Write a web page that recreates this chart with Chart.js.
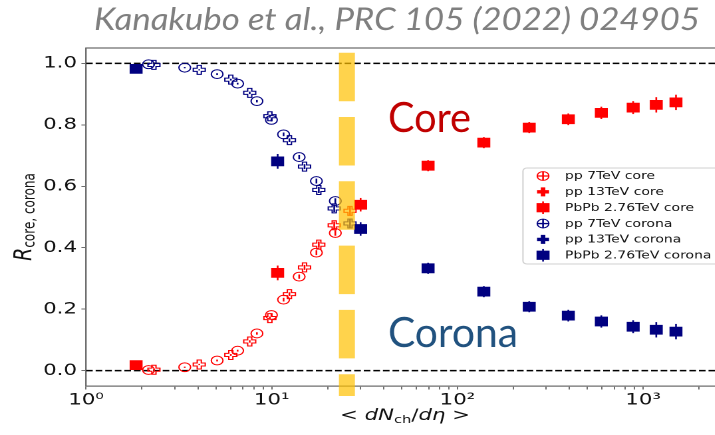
<!DOCTYPE html>
<html>
<head>
<meta charset="utf-8">
<script src="https://cdn.jsdelivr.net/npm/chart.js@4.4.1/dist/chart.umd.min.js"></script>
<style>
  html, body { margin: 0; padding: 0; background: #fff; width: 715px; height: 435px; overflow: hidden; }
  #wrap { position: absolute; left: 0; top: 0; width: 546px; height: 435px;
          transform: scaleX(1.33); transform-origin: 0 0; }
</style>
</head>
<body>
<div id="wrap"><canvas id="c" width="546" height="435"></canvas></div>
<script>
// Horizontal stretch of the whole figure (the canvas is widened by CSS)
const S = 1.33;
const RED = '#ff0000';
const NAVY = '#000080';

// Axis ticks
const xMajorTicks = [1, 10, 100, 1000];
const xTickLabels = ['10⁰', '10¹', '10²', '10³'];
const xMinorSteps = [2, 3, 4, 5, 6, 7, 8, 9];
const yTicks = [0, 0.2, 0.4, 0.6, 0.8, 1.0];
const yTickLabels = ['0.0', '0.2', '0.4', '0.6', '0.8', '1.0'];

// pp 7 TeV  (<dNch/deta>, core / corona fractions, errors)
const pp7Mult   = [2.17, 3.40, 5.08, 6.55, 8.32, 9.96, 11.58, 14.05, 17.4, 22.0];
const pp7Core   = [0.002, 0.011, 0.033, 0.065, 0.121, 0.181, 0.231, 0.306, 0.384, 0.448];
const pp7Corona = [0.997, 0.986, 0.965, 0.934, 0.877, 0.816, 0.769, 0.695, 0.617, 0.552];
const pp7Err    = [0.002, 0.002, 0.003, 0.003, 0.004, 0.005, 0.006, 0.007, 0.008, 0.009];

// pp 13 TeV
const pp13Mult   = [2.32, 4.07, 6.02, 7.61, 9.77, 12.45, 15.02, 17.92, 21.7, 26.4];
const pp13Core   = [0.003, 0.020, 0.051, 0.095, 0.171, 0.249, 0.336, 0.410, 0.473, 0.520];
const pp13Corona = [0.995, 0.979, 0.947, 0.904, 0.828, 0.750, 0.664, 0.588, 0.528, 0.479];
const pp13Err    = [0.002, 0.002, 0.003, 0.004, 0.005, 0.006, 0.008, 0.010, 0.012, 0.014];

// PbPb 2.76 TeV
const pbpbMult   = [1.86, 10.76, 30.1, 69.5, 138.7, 243.6, 395.6, 595.6, 884, 1177, 1503];
const pbpbCore   = [0.018, 0.318, 0.540, 0.667, 0.742, 0.791, 0.818, 0.839, 0.856, 0.865, 0.873];
const pbpbCorona = [0.982, 0.681, 0.461, 0.333, 0.257, 0.208, 0.179, 0.160, 0.143, 0.133, 0.127];
const pbpbErr    = [0.012, 0.024, 0.022, 0.018, 0.018, 0.018, 0.019, 0.020, 0.021, 0.025, 0.025];

// Reference levels and the dashed vertical marker
const refLevels = [0, 1];
const xRange = [1, 2500];
const yRange = [-0.05, 1.05];
const bandX = 25.4;

const pts = (xs, ys) => xs.map((x, i) => ({ x, y: ys[i] }));

function circleSet(label, ys, color) {
  return { label, data: pts(pp7Mult, ys), err: pp7Err, marker: 'circle',
    pointStyle: 'circle', pointRadius: 4.4, borderWidth: 1,
    borderColor: color, backgroundColor: 'rgba(0,0,0,0)', showLine: false };
}
function plusSet(label, ys, color) {
  return { label, data: pts(pp13Mult, ys), err: pp13Err, marker: 'plus',
    pointRadius: 0, borderColor: color, backgroundColor: color, showLine: false };
}
function squareSet(label, ys, color) {
  return { label, data: pts(pbpbMult, ys), err: pbpbErr, marker: 'square',
    pointStyle: 'rect', pointRadius: 6.9, borderWidth: 0,
    borderColor: color, backgroundColor: color, showLine: false };
}
function refLine(level) {
  return { label: '', data: [{ x: xRange[0], y: level }, { x: xRange[1], y: level }],
    showLine: true, pointRadius: 0, borderColor: '#000', borderWidth: 1.6,
    borderDash: [5, 2.2], ref: true };
}

const datasets = [
  circleSet('pp 7TeV core', pp7Core, RED),
  plusSet('pp 13TeV core', pp13Core, RED),
  squareSet('PbPb 2.76TeV core', pbpbCore, RED),
  circleSet('pp 7TeV corona', pp7Corona, NAVY),
  plusSet('pp 13TeV corona', pp13Corona, NAVY),
  squareSet('PbPb 2.76TeV corona', pbpbCorona, NAVY),
  ...refLevels.map(refLine)
];

function plusPath(ctx, x, y, a, b) {
  ctx.beginPath();
  ctx.moveTo(x - b, y - a); ctx.lineTo(x + b, y - a); ctx.lineTo(x + b, y - b);
  ctx.lineTo(x + a, y - b); ctx.lineTo(x + a, y + b); ctx.lineTo(x + b, y + b);
  ctx.lineTo(x + b, y + a); ctx.lineTo(x - b, y + a); ctx.lineTo(x - b, y + b);
  ctx.lineTo(x - a, y + b); ctx.lineTo(x - a, y - b); ctx.lineTo(x - b, y - b);
  ctx.closePath();
}

function fitText(ctx, text, x, baseline, width, font, color) {
  ctx.save();
  ctx.font = font;
  const w = ctx.measureText(text).width;
  ctx.translate(x, baseline);
  ctx.scale(width / w, 1);
  ctx.fillStyle = color;
  ctx.textBaseline = 'alphabetic';
  ctx.textAlign = 'left';
  ctx.fillText(text, 0, 0);
  ctx.restore();
}

const figurePlugin = {
  id: 'figure',
  afterDatasetsDraw(chart) {
    const { ctx, scales: { x, y } } = chart;
    chart.data.datasets.forEach((ds, i) => {
      if (!ds.err) return;
      ctx.save();
      ctx.strokeStyle = ds.borderColor;
      ctx.lineWidth = 1.3;
      ds.data.forEach((p, k) => {
        const px = x.getPixelForValue(p.x);
        ctx.beginPath();
        ctx.moveTo(px, y.getPixelForValue(p.y - ds.err[k]));
        ctx.lineTo(px, y.getPixelForValue(p.y + ds.err[k]));
        ctx.stroke();
      });
      if (ds.marker === 'plus') {
        ctx.lineWidth = 1;
        chart.getDatasetMeta(i).data.forEach(el => {
          plusPath(ctx, el.x, el.y, 4.5, 1.55);
          ctx.stroke();
        });
      }
      ctx.restore();
    });
  },
  afterDraw(chart) {
    const { ctx, chartArea: ca, scales: { x } } = chart;

    // top spine
    ctx.save();
    ctx.strokeStyle = '#6e6e6e';
    ctx.lineWidth = 1.2;
    ctx.beginPath();
    ctx.moveTo(ca.left, ca.top);
    ctx.lineTo(ca.right, ca.top);
    ctx.stroke();
    ctx.restore();

    // y-axis title: R_{core, corona}
    ctx.save();
    ctx.translate(23.5, (ca.top + ca.bottom) / 2);
    ctx.rotate(-Math.PI / 2);
    ctx.fillStyle = '#111';
    ctx.textBaseline = 'alphabetic';
    ctx.font = 'italic 19px "DejaVu Sans"';
    const rW = ctx.measureText('R').width;
    ctx.font = '12px "DejaVu Sans"';
    const sW = ctx.measureText('core, corona').width;
    const y0 = -(rW + sW) / 2;
    ctx.font = 'italic 19px "DejaVu Sans"';
    ctx.fillText('R', y0, 0);
    ctx.font = '12px "DejaVu Sans"';
    ctx.fillText('core, corona', y0 + rW, 2.5);
    ctx.restore();

    // x-axis title: < dN_ch/dη >
    const parts = [
      ['<', '16px "DejaVu Sans"', 0], [' ', '16px "DejaVu Sans"', 0],
      ['dN', 'italic 16px "DejaVu Sans"', 0], ['ch', '11px "DejaVu Sans"', 3],
      ['/', '16px "DejaVu Sans"', 0], ['dη', 'italic 16px "DejaVu Sans"', 0],
      [' ', '16px "DejaVu Sans"', 0], ['>', '16px "DejaVu Sans"', 0]
    ];
    ctx.save();
    ctx.fillStyle = '#111';
    ctx.textBaseline = 'alphabetic';
    let total = 0;
    parts.forEach(p => { ctx.font = p[1]; total += ctx.measureText(p[0]).width; });
    let cx = 304.5 - total / 2;
    parts.forEach(p => {
      ctx.font = p[1];
      ctx.fillText(p[0], cx, 420 + p[2]);
      cx += ctx.measureText(p[0]).width;
    });
    ctx.restore();

    // legend
    ctx.save();
    const lx = 393.2, ly = 168, lh = 96;
    ctx.beginPath();
    ctx.roundRect(lx, ly, 200, lh, 3);
    ctx.fillStyle = 'rgba(255,255,255,0.85)';
    ctx.fill();
    ctx.strokeStyle = '#d0d0d0';
    ctx.lineWidth = 1;
    ctx.stroke();
    const entries = chart.data.datasets.filter(d => !d.ref);
    entries.forEach((ds, i) => {
      const cy = 176 + i * 15.85;
      const mx = 408.3;
      ctx.strokeStyle = ds.borderColor;
      ctx.fillStyle = ds.borderColor;
      if (ds.marker === 'circle') {
        ctx.lineWidth = 1;
        ctx.beginPath(); ctx.arc(mx, cy, 4.4, 0, Math.PI * 2); ctx.stroke();
        ctx.lineWidth = 1.3;
        ctx.beginPath();
        ctx.moveTo(mx - 4.4, cy); ctx.lineTo(mx + 4.4, cy);
        ctx.moveTo(mx, cy - 4.4); ctx.lineTo(mx, cy + 4.4);
        ctx.stroke();
      } else if (ds.marker === 'plus') {
        plusPath(ctx, mx, cy, 4.5, 1.7);
        ctx.fill();
      } else {
        ctx.fillRect(mx - 4.9, cy - 4.6, 9.8, 9.2);
        ctx.lineWidth = 1.3;
        ctx.beginPath(); ctx.moveTo(mx, cy - 6.3); ctx.lineTo(mx, cy + 6.3); ctx.stroke();
      }
      ctx.fillStyle = '#111';
      ctx.font = '10.5px "DejaVu Sans"';
      ctx.textBaseline = 'middle';
      ctx.fillText(ds.label, 424.8, cy + 0.5);
    });
    ctx.restore();

    // dashed vertical marker at <dNch/deta> ~ 25
    ctx.save();
    const bx = x.getPixelForValue(bandX);
    ctx.globalAlpha = 0.7;
    ctx.strokeStyle = '#ffc000';
    ctx.lineWidth = 16 / S;
    ctx.setLineDash([48.5, 15.8]);
    ctx.beginPath();
    ctx.moveTo(bx, 52.7);
    ctx.lineTo(bx, 396);
    ctx.stroke();
    ctx.restore();

    // annotations, drawn in unstretched page pixels
    ctx.save();
    ctx.scale(1 / S, 1);
    fitText(ctx, 'Kanakubo et al., PRC 105 (2022) 024905', 94, 30, 606,
            'italic 400 31px Lato', '#7f7f7f');
    fitText(ctx, 'Core', 388, 132, 83, '42px Lato', '#c00000');
    fitText(ctx, 'Corona', 388, 347, 130, '42px Lato', '#21527f');
    ctx.restore();
  }
};

const tickFont = { family: 'DejaVu Sans', size: 16 };

new Chart(document.getElementById('c'), {
  type: 'scatter',
  data: { datasets },
  plugins: [figurePlugin],
  options: {
    responsive: false,
    devicePixelRatio: 2,
    animation: false,
    events: [],
    layout: { padding: { top: 48, right: 0.9, bottom: 0, left: 0 } },
    plugins: { legend: { display: false }, tooltip: { enabled: false } },
    scales: {
      x: {
        type: 'logarithmic',
        min: xRange[0], max: xRange[1],
        afterBuildTicks(scale) {
          const vals = [];
          xMajorTicks.forEach(m => {
            vals.push(m);
            xMinorSteps.forEach(k => { if (m * k <= xRange[1]) vals.push(m * k); });
          });
          scale.ticks = vals.map(v => ({ value: v, major: xMajorTicks.includes(v) }));
        },
        afterFit(scale) { scale.height = 49; },
        ticks: {
          autoSkip: false, maxRotation: 0, minRotation: 0, padding: 1,
          color: '#111', font: tickFont,
          callback: v => { const i = xMajorTicks.indexOf(v); return i >= 0 ? xTickLabels[i] : ''; }
        },
        grid: { drawOnChartArea: false, drawTicks: true, tickLength: 3.5, color: '#6e6e6e', tickWidth: 1 },
        border: { display: true, color: '#6e6e6e', width: 1.2 }
      },
      y: {
        type: 'linear',
        min: yRange[0], max: yRange[1],
        afterBuildTicks(scale) { scale.ticks = yTicks.map(v => ({ value: v })); },
        afterFit(scale) { scale.width = 64.7; },
        ticks: {
          padding: 3.3, color: '#111', font: tickFont,
          callback: (v, i) => yTickLabels[yTicks.indexOf(v)]
        },
        grid: { drawOnChartArea: false, drawTicks: true, tickLength: 3.5, color: '#6e6e6e', tickWidth: 1 },
        border: { display: true, color: '#6e6e6e', width: 1.2 }
      }
    }
  }
});
</script>
</body>
</html>
